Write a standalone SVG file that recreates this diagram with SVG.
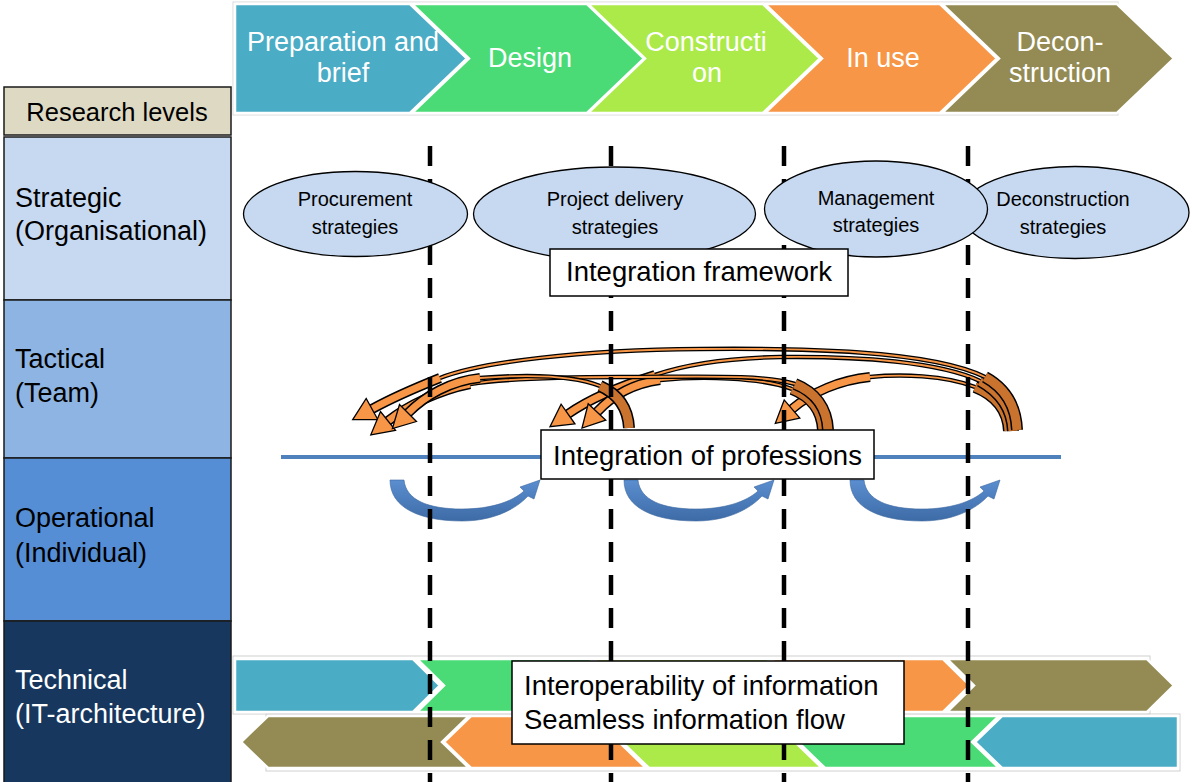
<svg xmlns="http://www.w3.org/2000/svg" width="1192" height="782" viewBox="0 0 1192 782">
<style>
text{font-family:"Liberation Sans",Arial,sans-serif}
.ct{fill:#fff;font-size:27px;text-anchor:middle}
.lv{fill:#000;font-size:27px}
.lvw{fill:#fff;font-size:27px}
.cv{stroke:#fff;stroke-width:2.5;stroke-linejoin:miter}
.lvb{stroke:#1a1a1a;stroke-width:1.5}
.ell{fill:#C6D9F1;stroke:#000;stroke-width:1.3}
.et{fill:#000;font-size:20px;text-anchor:middle}
.box{fill:#fff;stroke:#000;stroke-width:1.5}
.bt{fill:#000;font-size:27.5px}
.dash{stroke:#000;stroke-width:4.5;stroke-dasharray:20 13;fill:none}
.k{fill:none;stroke:#000;stroke-linecap:butt}
.o{fill:none;stroke:#F79646;stroke-linecap:butt}
.t{fill:none;stroke:#C9732F;stroke-linecap:butt}
.ah{fill:#F79646;stroke:#000;stroke-width:1.3;stroke-linejoin:miter}
</style>
<defs>
<linearGradient id="bg" x1="0" y1="0" x2="0" y2="1">
<stop offset="0" stop-color="#5B8ED0"/>
<stop offset="1" stop-color="#3D6BA6"/>
</linearGradient>
<path id="ba" d="M390,480 C390,508 420,521 462,521 C492,521 515,510 528,496 L534,499 L540,480 L520,487 L524,491 C512,502 490,509 462,509 C428,509 406,500 404,480 Z" fill="url(#bg)" stroke="#3A67A0" stroke-width="0.6"/>
</defs>
<rect width="1192" height="782" fill="#fff"/>

<g id="levels">
<g id="research-levels"><rect class="lvb" x="4" y="87" width="227" height="48" fill="#DDD9C3"/><text x="117" y="121" font-size="25.5" text-anchor="middle" fill="#000">Research levels</text></g>
<g id="strategic"><rect class="lvb" x="4" y="137" width="227" height="163" fill="#C6D9F1"/><text class="lv" x="15" y="207">Strategic</text><text class="lv" x="15" y="240">(Organisational)</text></g>
<g id="tactical"><rect class="lvb" x="4" y="300" width="227" height="158" fill="#8EB4E3"/><text class="lv" x="15" y="368">Tactical</text><text class="lv" x="15" y="402">(Team)</text></g>
<g id="operational"><rect class="lvb" x="4" y="458" width="227" height="163" fill="#558ED5"/><text class="lv" x="15" y="527">Operational</text><text class="lv" x="15" y="562">(Individual)</text></g>
<g id="technical"><rect class="lvb" x="4" y="621" width="227" height="170" fill="#17375E"/><text class="lvw" x="15" y="689">Technical</text><text class="lvw" x="15" y="723">(IT-architecture)</text></g>
</g>

<g id="phases">
<rect x="233" y="2" width="885" height="113" fill="none" stroke="#d9d9d9" stroke-width="1"/>
<g id="phase-prep"><path class="cv" fill="#4BACC6" d="M235,4 L410,4 L467,58.5 L410,113 L235,113 Z"/><text class="ct" x="343" y="51">Preparation and</text><text class="ct" x="343" y="82">brief</text></g>
<g id="phase-design"><path class="cv" fill="#4ADB76" d="M412,4 L587,4 L644,58.5 L587,113 L412,113 L469,58.5 Z"/><text class="ct" x="530" y="67">Design</text></g>
<g id="phase-construction"><path class="cv" fill="#ACEA4A" d="M588,4 L763,4 L820,58.5 L763,113 L588,113 L645,58.5 Z"/><text class="ct" x="706" y="51">Constructi</text><text class="ct" x="707" y="82">on</text></g>
<g id="phase-inuse"><path class="cv" fill="#F79646" d="M765,4 L940,4 L997,58.5 L940,113 L765,113 L822,58.5 Z"/><text class="ct" x="883" y="67">In use</text></g>
<g id="phase-decon"><path class="cv" fill="#948B54" d="M942,4 L1117,4 L1174,58.5 L1117,113 L942,113 L999,58.5 Z"/><text class="ct" x="1060" y="51">Decon-</text><text class="ct" x="1060" y="82">struction</text></g>
</g>

<g id="info-flow">
<rect x="233" y="656" width="917" height="58" fill="none" stroke="#d0d0d0" stroke-width="1"/>
<rect x="266" y="714" width="914" height="57" fill="none" stroke="#d0d0d0" stroke-width="1"/>
<path class="cv" fill="#4BACC6" d="M235,659 L413,659 L440,685.5 L413,712 L235,712 Z"/>
<path class="cv" fill="#4ADB76" d="M417,659 L590,659 L617,685.5 L590,712 L417,712 L444,685.5 Z"/>
<path class="cv" fill="#ACEA4A" d="M594,659 L767,659 L794,685.5 L767,712 L594,712 L621,685.5 Z"/>
<path class="cv" fill="#F79646" d="M771,659 L943,659 L970,685.5 L943,712 L771,712 L798,685.5 Z"/>
<path class="cv" fill="#948B54" d="M947,659 L1147,659 L1174,685.5 L1147,712 L947,712 L974,685.5 Z"/>
<path class="cv" fill="#948B54" d="M241,742 L268,716 L469,716 L442,742 L469,768 L268,768 Z"/>
<path class="cv" fill="#F79646" d="M444,742 L471,716 L646,716 L619,742 L646,768 L471,768 Z"/>
<path class="cv" fill="#ACEA4A" d="M622,742 L649,716 L822,716 L795,742 L822,768 L649,768 Z"/>
<path class="cv" fill="#4ADB76" d="M798,742 L825,716 L999,716 L972,742 L999,768 L825,768 Z"/>
<path class="cv" fill="#4BACC6" d="M975,742 L1002,716 L1178,716 L1178,768 L1002,768 Z"/>
</g>

<g id="connectors">
<line x1="281" y1="457" x2="1061" y2="457" stroke="#4F81BD" stroke-width="4"/>
<use href="#ba"/>
<use href="#ba" transform="translate(234,0)"/>
<use href="#ba" transform="translate(460,0)"/>

<g id="orange-arrows">
<g>
<path class="k" stroke-width="4.5" d="M1009,431 C1008,410 995,395 975,387 C945,375 900,374 870,377 C840,380 812,392 792,409"/>
<path class="o" stroke-width="1.8" d="M1009,431 C1008,410 995,395 975,387 C945,375 900,374 870,377 C840,380 812,392 792,409"/>
<path class="k" stroke-width="10" d="M870,377 C840,380 812,392 792,409"/>
<path class="o" stroke-width="7" d="M870,377 C840,380 812,392 792,409"/>
<path class="k" stroke-width="12" d="M1009,431 C1008,410 995,395 975,387"/>
<path class="t" stroke-width="9" d="M1009,431 C1008,410 995,395 975,387"/>
<polygon class="ah" points="799.8,418.1 775.3,423.3 784.2,399.9"/>
</g>
<g>
<path class="k" stroke-width="4.5" d="M1013,431 C1012,408 1000,392 980,381 C940,362 860,356 780,357 C730,358 690,363 655,375 C620,386 588,400 568,414"/>
<path class="o" stroke-width="1.8" d="M1013,431 C1012,408 1000,392 980,381 C940,362 860,356 780,357 C730,358 690,363 655,375 C620,386 588,400 568,414"/>
<path class="k" stroke-width="10" d="M655,375 C620,386 588,400 568,414"/>
<path class="o" stroke-width="7" d="M655,375 C620,386 588,400 568,414"/>
<path class="k" stroke-width="12" d="M1013,431 C1012,408 1000,392 980,381"/>
<path class="t" stroke-width="9" d="M1013,431 C1012,408 1000,392 980,381"/>
<polygon class="ah" points="574.9,423.8 550,426.6 561.1,404.2"/>
</g>
<g>
<path class="k" stroke-width="4.5" d="M1017,430 C1016,405 1005,388 985,377 C930,350 800,348 700,349 C580,350 480,362 440,378 C415,388 392,398 372,409"/>
<path class="o" stroke-width="1.8" d="M1017,430 C1016,405 1005,388 985,377 C930,350 800,348 700,349 C580,350 480,362 440,378 C415,388 392,398 372,409"/>
<path class="k" stroke-width="10" d="M440,378 C415,388 392,398 372,409"/>
<path class="o" stroke-width="7" d="M440,378 C415,388 392,398 372,409"/>
<path class="k" stroke-width="12" d="M1017,430 C1016,405 1005,388 985,377"/>
<path class="t" stroke-width="9" d="M1017,430 C1016,405 1005,388 985,377"/>
<polygon class="ah" points="377.8,419.5 352.7,419.6 366.2,398.5"/>
</g>
<g>
<path class="k" stroke-width="4.5" d="M823,430 C822,410 812,397 792,389 C760,377 700,376 660,380 C630,384 610,398 597,412"/>
<path class="o" stroke-width="1.8" d="M823,430 C822,410 812,397 792,389 C760,377 700,376 660,380 C630,384 610,398 597,412"/>
<path class="k" stroke-width="10" d="M660,380 C630,384 610,398 597,412"/>
<path class="o" stroke-width="7" d="M660,380 C630,384 610,398 597,412"/>
<path class="k" stroke-width="12" d="M823,430 C822,410 812,397 792,389"/>
<path class="t" stroke-width="9" d="M823,430 C822,410 812,397 792,389"/>
<polygon class="ah" points="605.8,420.2 582,428 588.2,403.8"/>
</g>
<g>
<path class="k" stroke-width="4.5" d="M828,430 C827,408 815,392 795,384 C760,374 700,377 620,377 C560,377 510,378 470,384 C440,390 408,405 388,421"/>
<path class="o" stroke-width="1.8" d="M828,430 C827,408 815,392 795,384 C760,374 700,377 620,377 C560,377 510,378 470,384 C440,390 408,405 388,421"/>
<path class="k" stroke-width="10" d="M470,384 C440,390 408,405 388,421"/>
<path class="o" stroke-width="7" d="M470,384 C440,390 408,405 388,421"/>
<path class="k" stroke-width="12" d="M828,430 C827,408 815,392 795,384"/>
<path class="t" stroke-width="9" d="M828,430 C827,408 815,392 795,384"/>
<polygon class="ah" points="395.5,430.4 370.8,434.8 380.5,411.6"/>
</g>
<g>
<path class="k" stroke-width="4.5" d="M629,428 C628,408 618,394 600,386 C570,374 520,375 480,378 C450,381 425,396 408,413"/>
<path class="o" stroke-width="1.8" d="M629,428 C628,408 618,394 600,386 C570,374 520,375 480,378 C450,381 425,396 408,413"/>
<path class="k" stroke-width="10" d="M480,378 C450,381 425,396 408,413"/>
<path class="o" stroke-width="7" d="M480,378 C450,381 425,396 408,413"/>
<path class="k" stroke-width="12" d="M629,428 C628,408 618,394 600,386"/>
<path class="t" stroke-width="9" d="M629,428 C628,408 618,394 600,386"/>
<polygon class="ah" points="416.5,421.5 392.4,428.6 399.5,404.5"/>
</g>
</g>

<g id="phase-dividers">
<line class="dash" x1="430" y1="146" x2="430" y2="782"/>
<line class="dash" x1="611" y1="146" x2="611" y2="782"/>
<line class="dash" x1="784" y1="146" x2="784" y2="782"/>
<line class="dash" x1="968" y1="146" x2="968" y2="782"/>
</g>
</g>

<g id="strategies">
<g id="procurement"><ellipse class="ell" cx="355.5" cy="214" rx="112" ry="42.5"/><text class="et" x="355" y="206">Procurement</text><text class="et" x="355" y="234">strategies</text></g>
<g id="project-delivery"><ellipse class="ell" cx="614.5" cy="214" rx="141" ry="47"/><text class="et" x="615" y="206">Project delivery</text><text class="et" x="615" y="234">strategies</text></g>
<g id="deconstruction"><ellipse class="ell" cx="1075" cy="212.5" rx="114" ry="46"/><text class="et" x="1063" y="206">Deconstruction</text><text class="et" x="1063" y="234">strategies</text></g>
<g id="management"><ellipse class="ell" cx="876" cy="209" rx="111.5" ry="48"/><text class="et" x="876" y="205">Management</text><text class="et" x="876" y="232">strategies</text></g>
</g>

<g id="integration-framework"><rect class="box" x="550" y="249" width="298" height="47"/><text class="bt" x="699" y="281" text-anchor="middle" font-size="28">Integration framework</text></g>
<g id="integration-professions"><rect class="box" x="541" y="430" width="333" height="49"/><text class="bt" x="707.5" y="465" text-anchor="middle">Integration of professions</text></g>
<g id="interoperability"><rect class="box" x="512" y="661" width="392" height="83"/><text class="bt" x="524" y="695" font-size="28">Interoperability of information</text><text class="bt" x="524" y="729" font-size="28">Seamless information flow</text></g>
</svg>
